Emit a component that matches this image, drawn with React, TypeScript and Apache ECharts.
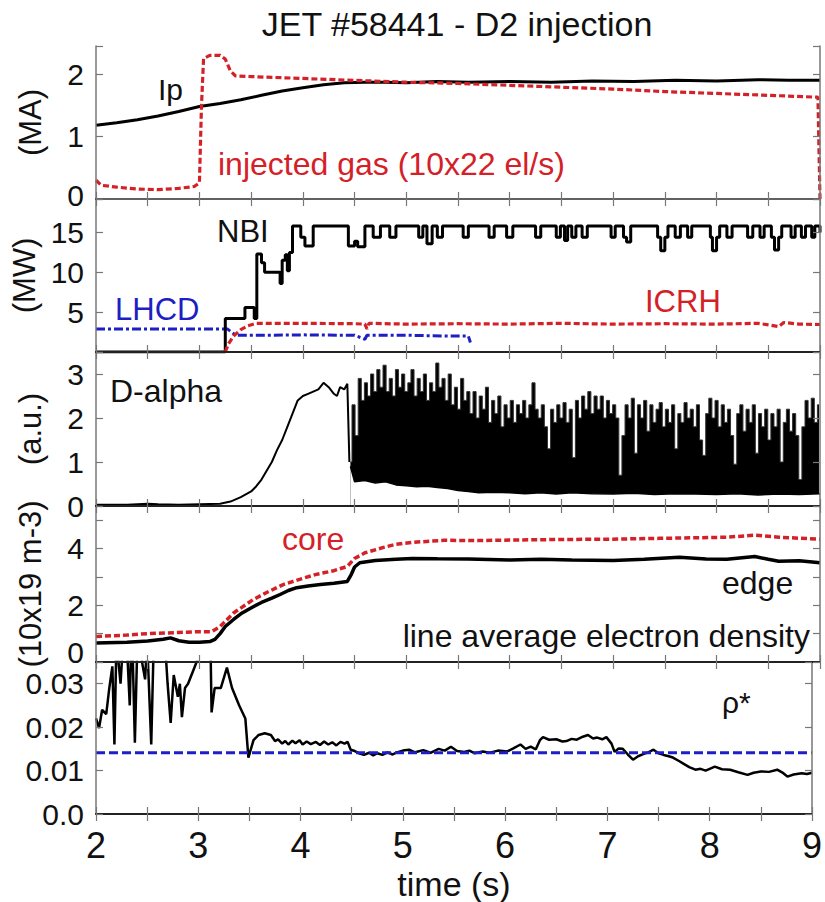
import React, { useEffect, useRef } from 'react';
import * as echarts from 'echarts';

const FONT = '"Liberation Sans", Arial, Helvetica, sans-serif';
const RED = '#d42128';
const BLUE = '#1e1ec4';

// ---- Panel 1: plasma current and injected gas ----
const ipData = [
  [2.0, 1.18], [2.2, 1.22], [2.4, 1.27], [2.6, 1.33], [2.8, 1.4], [3.0, 1.48], [3.2, 1.53],
  [3.4, 1.59], [3.6, 1.66], [3.8, 1.73], [4.0, 1.78], [4.2, 1.83], [4.4, 1.86], [4.6, 1.87],
  [4.8, 1.87], [5.0, 1.86], [5.3, 1.88], [5.6, 1.87], [6.0, 1.88], [6.4, 1.87], [6.8, 1.89],
  [7.2, 1.88], [7.6, 1.9], [8.0, 1.89], [8.4, 1.91], [8.7, 1.9], [9.0, 1.9],
];
const gasData = [
  [2.0, 0.3], [2.05, 0.22], [2.2, 0.19], [2.4, 0.16], [2.6, 0.15], [2.8, 0.17], [2.95, 0.2],
  [3.0, 0.26], [3.02, 1.5], [3.04, 2.25], [3.1, 2.3], [3.2, 2.3], [3.25, 2.24], [3.3, 2.05],
  [3.35, 1.97], [3.5, 1.96], [4.0, 1.93], [4.5, 1.9], [5.0, 1.87], [5.5, 1.85], [6.0, 1.82],
  [6.5, 1.79], [7.0, 1.76], [7.5, 1.72], [8.0, 1.69], [8.5, 1.66], [8.98, 1.63], [9.0, 0.0],
];

// ---- Panel 2: heating powers (MW) ----
const nbiData = [
  [2.0, 0], [3.25, 4.2], [3.44, 5.6], [3.53, 4.2], [3.555, 12.3], [3.6, 11.2], [3.63, 10.0],
  [3.78, 8.6], [3.8, 11.5], [3.83, 12.2], [3.85, 10.2], [3.87, 12.5], [3.9, 15.8],
  [3.98, 14.4], [4.02, 13.3], [4.1, 15.8], [4.44, 13.3], [4.5, 13.9], [4.53, 13.2], [4.6, 15.8],
  [4.68, 14.4], [4.75, 15.8], [4.84, 14.4], [4.9, 15.8], [5.12, 14.4], [5.16, 15.8], [5.2, 13.6],
  [5.25, 15.8], [5.3, 14.4], [5.35, 15.8], [5.55, 14.4], [5.6, 15.8], [5.8, 14.4], [5.85, 15.8],
  [5.97, 14.4], [6.03, 15.8], [6.25, 14.4], [6.3, 15.8], [6.45, 14.4], [6.49, 15.8], [6.53, 14.0],
  [6.56, 15.8], [6.6, 14.4], [6.64, 15.8], [6.7, 14.4], [6.75, 15.8], [6.98, 14.4], [7.02, 15.8],
  [7.1, 14.4], [7.13, 13.8], [7.17, 15.8], [7.43, 14.4], [7.46, 12.7], [7.5, 14.4], [7.53, 15.8],
  [7.6, 14.4], [7.65, 15.8], [7.72, 14.4], [7.76, 15.8], [7.94, 14.4], [7.96, 12.7], [8.0, 14.4],
  [8.03, 15.8], [8.1, 14.4], [8.15, 15.8], [8.3, 14.4], [8.35, 15.8], [8.42, 14.4], [8.46, 15.8],
  [8.53, 14.4], [8.56, 12.8], [8.6, 14.4], [8.63, 15.8], [8.72, 14.4], [8.76, 15.8], [8.82, 14.4],
  [8.86, 15.8], [8.92, 14.4], [8.95, 15.8], [9.0, 15.0],
];
const icrhOffData = [[2.0, 0], [3.26, 0]];
const icrhData = [
  [3.25, 0], [3.28, 1.0], [3.33, 2.0], [3.4, 2.8], [3.47, 3.3], [3.55, 3.6],
  [4.0, 3.6], [4.5, 3.55], [4.6, 3.5], [4.62, 2.9], [4.64, 3.6], [5.0, 3.5], [5.5, 3.55],
  [6.0, 3.5], [6.5, 3.6], [7.0, 3.5], [7.5, 3.55], [8.0, 3.5], [8.4, 3.6], [8.6, 3.2],
  [8.65, 3.7], [8.8, 3.5], [9.0, 3.45],
];
const lhcdData = [
  [2.0, 2.9], [3.27, 2.9], [3.35, 2.1], [3.6, 2.1], [4.0, 2.15], [4.5, 2.1], [4.6, 1.6],
  [4.62, 2.1], [5.0, 2.1], [5.4, 2.0], [5.6, 2.0], [5.62, 1.2],
];
const lhcdLateData = [[7.15, 0], [9.0, 0]];

// ---- Panel 3: D-alpha (a.u.) ----
const dalphaData = [
  [2.0, 0.03], [2.3, 0.03], [2.5, 0.05], [2.6, 0.04], [2.8, 0.03], [3.0, 0.04], [3.2, 0.05],
  [3.3, 0.1], [3.4, 0.2], [3.5, 0.33], [3.55, 0.45], [3.6, 0.6], [3.65, 0.8], [3.7, 1.0],
  [3.75, 1.27], [3.8, 1.5], [3.85, 1.8], [3.9, 2.1], [3.95, 2.4], [4.0, 2.5], [4.05, 2.55],
  [4.1, 2.6], [4.15, 2.65], [4.2, 2.8], [4.25, 2.7], [4.3, 2.55], [4.33, 2.5], [4.36, 2.7],
  [4.4, 2.65], [4.43, 2.78], [4.45, 1.0],
];
// ELMy phase, sampled every 0.03 s from 4.46 s: upper envelope of the bursts
const elmStart = 4.46;
const elmStep = 0.03;
const elmHigh = [
  1.0, 2.3, 1.6, 2.9, 2.4, 2.8, 2.5, 3.0, 2.6, 3.1,
  2.7, 3.2, 2.6, 2.9, 2.5, 3.1, 2.7, 3.0, 2.6, 2.8,
  3.1, 2.5, 2.9, 2.6, 3.0, 2.4, 2.8, 2.6, 3.25, 2.7,
  2.9, 2.4, 3.0, 2.3, 2.7, 2.2, 2.9, 2.4, 2.6, 2.1,
  2.6, 2.0, 2.5, 2.2, 2.7, 1.9, 2.4, 2.1, 2.5, 1.8,
  2.3, 2.0, 2.4, 1.9, 2.3, 2.1, 2.4, 2.0, 2.3, 2.8,
  2.2, 2.0, 2.3, 1.8, 1.3, 2.2, 1.9, 2.3, 2.0, 2.35,
  1.9, 2.2, 1.1, 2.4, 2.0, 2.5, 2.2, 2.6, 2.1, 2.5,
  2.2, 2.5, 2.0, 2.4, 2.1, 2.3, 2.0, 0.7, 1.6, 2.3,
  2.0, 2.45, 1.2, 2.3, 2.0, 2.4, 1.7, 2.3, 1.9, 2.2,
  2.35, 1.8, 2.2, 1.9, 2.3, 1.3, 2.1, 1.9, 2.35, 2.0,
  2.2, 1.8, 2.3, 1.5, 1.15, 2.1, 2.45, 2.0, 2.4, 1.8,
  2.3, 1.9, 2.2, 1.6, 0.95, 2.1, 2.3, 1.7, 2.2, 1.9,
  2.3, 1.2, 2.1, 1.8, 2.2, 1.5, 2.1, 1.8, 2.2, 1.0,
  1.9, 2.2, 1.7, 2.1, 1.6, 0.6, 1.8, 2.4, 2.0, 2.45,
  1.9, 2.3,
];
// lower envelope of the ELM bursts
const elmLowData = [
  [4.46, 0.9], [4.5, 0.55], [4.6, 0.58], [4.7, 0.52], [4.8, 0.55], [4.9, 0.48], [5.0, 0.46],
  [5.1, 0.44], [5.2, 0.45], [5.3, 0.42], [5.4, 0.4], [5.5, 0.35], [5.6, 0.33], [5.7, 0.3],
  [5.85, 0.31], [6.0, 0.3], [6.15, 0.28], [6.3, 0.3], [6.45, 0.27], [6.6, 0.3], [6.8, 0.28],
  [7.0, 0.27], [7.2, 0.29], [7.4, 0.26], [7.6, 0.28], [7.8, 0.27], [8.0, 0.26], [8.2, 0.28],
  [8.4, 0.25], [8.6, 0.27], [8.8, 0.26], [9.0, 0.28],
];

// ---- Panel 4: line average electron density (10^19 m^-3) ----
const edgeData = [
  [2.0, 0.67], [2.3, 0.7], [2.5, 0.74], [2.65, 0.8], [2.72, 0.85], [2.8, 0.75], [2.9, 0.7],
  [3.0, 0.7], [3.1, 0.72], [3.15, 0.8], [3.2, 1.0], [3.25, 1.25], [3.33, 1.5], [3.4, 1.7],
  [3.52, 1.95], [3.6, 2.1], [3.7, 2.25], [3.78, 2.38], [3.86, 2.52], [3.94, 2.62], [4.05, 2.68],
  [4.17, 2.73], [4.3, 2.78], [4.43, 2.84], [4.47, 3.1], [4.5, 3.35], [4.55, 3.5], [4.7, 3.58],
  [4.9, 3.62], [5.06, 3.65], [5.3, 3.64], [5.6, 3.63], [6.0, 3.6], [6.3, 3.62], [6.6, 3.6],
  [7.0, 3.58], [7.3, 3.62], [7.64, 3.69], [7.9, 3.63], [8.1, 3.62], [8.37, 3.72], [8.5, 3.62],
  [8.6, 3.55], [8.8, 3.57], [9.0, 3.5],
];
const coreData = [
  [2.0, 0.9], [2.3, 0.95], [2.5, 1.0], [2.8, 1.04], [3.0, 1.07], [3.12, 1.07], [3.2, 1.25],
  [3.33, 1.73], [3.52, 2.2], [3.65, 2.45], [3.81, 2.73], [4.0, 2.95], [4.13, 3.09], [4.3, 3.22],
  [4.43, 3.37], [4.5, 3.65], [4.6, 3.85], [4.78, 4.04], [4.9, 4.15], [5.06, 4.22], [5.37, 4.29],
  [5.7, 4.28], [6.0, 4.3], [6.5, 4.32], [7.0, 4.33], [7.45, 4.36], [7.8, 4.38], [8.1, 4.4],
  [8.37, 4.47], [8.6, 4.4], [9.0, 4.33],
];

// ---- Panel 5: rho* ----
const rhoData = [
  [2.0, 0.022], [2.03, 0.0198], [2.06, 0.024], [2.1, 0.023], [2.13, 0.029], [2.16, 0.034],
  [2.18, 0.016], [2.2, 0.04], [2.24, 0.03], [2.27, 0.042], [2.3, 0.04], [2.33, 0.025],
  [2.35, 0.045], [2.38, 0.0164], [2.41, 0.045], [2.45, 0.035], [2.48, 0.031], [2.5, 0.04],
  [2.54, 0.016], [2.57, 0.045], [2.62, 0.04], [2.66, 0.045], [2.7, 0.03], [2.73, 0.021],
  [2.76, 0.032], [2.8, 0.027], [2.82, 0.03], [2.84, 0.0223], [2.87, 0.029], [2.9, 0.03],
  [2.95, 0.033], [3.0, 0.036], [3.05, 0.04], [3.12, 0.038], [3.13, 0.0234], [3.16, 0.029],
  [3.22, 0.029], [3.28, 0.0337], [3.33, 0.029], [3.4, 0.025], [3.46, 0.022], [3.49, 0.013],
  [3.54, 0.017], [3.59, 0.0182], [3.65, 0.0186], [3.71, 0.0182], [3.75, 0.0168], [3.78, 0.0172],
  [3.82, 0.0162], [3.85, 0.0168], [3.88, 0.016], [3.92, 0.0169], [3.95, 0.0163], [3.99, 0.017],
  [4.02, 0.016], [4.06, 0.0167], [4.1, 0.0161], [4.15, 0.0166], [4.19, 0.0159], [4.23, 0.0167],
  [4.27, 0.016], [4.31, 0.0165], [4.35, 0.0158], [4.39, 0.0166], [4.43, 0.0162], [4.46, 0.0166],
  [4.49, 0.0148], [4.53, 0.0145], [4.57, 0.014], [4.62, 0.0136], [4.67, 0.0141], [4.71, 0.0135],
  [4.75, 0.014], [4.8, 0.0136], [4.85, 0.0142], [4.9, 0.0137], [4.94, 0.0142], [5.0, 0.0146],
  [5.06, 0.0148], [5.12, 0.0142], [5.2, 0.0147], [5.27, 0.0141], [5.35, 0.015], [5.41, 0.0146],
  [5.47, 0.0155], [5.53, 0.0145], [5.6, 0.0143], [5.65, 0.0146], [5.7, 0.014], [5.78, 0.0144],
  [5.85, 0.0141], [5.93, 0.0146], [6.02, 0.0144], [6.08, 0.0151], [6.15, 0.016], [6.2, 0.015],
  [6.25, 0.0155], [6.3, 0.0149], [6.34, 0.017], [6.37, 0.0177], [6.43, 0.0171], [6.5, 0.0172],
  [6.56, 0.0167], [6.6, 0.0168], [6.65, 0.0173], [6.7, 0.0171], [6.76, 0.0178], [6.81, 0.0182],
  [6.86, 0.0174], [6.9, 0.0176], [6.95, 0.0172], [6.99, 0.0177], [7.04, 0.0162], [7.07, 0.0143],
  [7.11, 0.0151], [7.15, 0.015], [7.2, 0.0137], [7.25, 0.0125], [7.3, 0.0133], [7.35, 0.0138],
  [7.4, 0.0142], [7.45, 0.0148], [7.5, 0.014], [7.55, 0.0136], [7.6, 0.0133], [7.64, 0.013],
  [7.7, 0.0122], [7.75, 0.0115], [7.8, 0.0108], [7.86, 0.0102], [7.91, 0.0104], [7.96, 0.01],
  [8.0, 0.0104], [8.05, 0.0109], [8.12, 0.0103], [8.2, 0.0102], [8.28, 0.0096], [8.37, 0.009],
  [8.43, 0.0095], [8.5, 0.0098], [8.58, 0.0097], [8.66, 0.0102], [8.72, 0.0094], [8.76, 0.0086],
  [8.82, 0.0091], [8.9, 0.0094], [8.95, 0.0092], [9.0, 0.0095],
];
const rhoRefData = [[2.0, 0.0141], [9.0, 0.0141]];

// ---- axes ----
const timeMin = 2;
const timeMax = 9;
const yRanges = [
  { min: 0, max: 2.45, interval: 1, name: '(MA)' },
  { min: 0, max: 19.2, interval: 5, name: '(MW)' },
  { min: 0, max: 3.5, interval: 1, name: '(a.u.)' },
  { min: 0, max: 5.5, interval: 1, name: '(10x19 m-3)' },
  { min: 0, max: 0.035, interval: 0.01, name: '' },
];

const isMult = (v: number, s: number) => Math.abs(v / s - Math.round(v / s)) < 1e-6;
const yFormatters = [
  (v: number) => (v < 1e-9 ? '{lo|0}' : isMult(v, 1) ? String(Math.round(v)) : ''),
  (v: number) => (v > 0 && isMult(v, 5) ? String(Math.round(v)) : ''),
  (v: number) => (isMult(v, 1) ? String(Math.round(v)) : ''),
  (v: number) => (v < 1e-9 ? '{up|0}' : isMult(v, 2) ? String(Math.round(v)) : ''),
  (v: number) => (v < 1e-9 ? '0.0' : isMult(v, 0.01) ? v.toFixed(2) : ''),
];

const PANELS = [
  { top: 46, height: 153 },
  { top: 199, height: 153 },
  { top: 352, height: 154 },
  { top: 506, height: 156 },
  { top: 662, height: 153 },
];
const GRID_LEFT = 96;
const GRID_WIDTH = 724;

function buildOption(): any {
  const grid = PANELS.map((p) => ({ left: GRID_LEFT, width: GRID_WIDTH, top: p.top, height: p.height }));
  const tickStyle = { inside: true, length: 7, lineStyle: { color: '#777', width: 1.2 } };
  const xAxis: any[] = [];
  const yAxis: any[] = [];
  PANELS.forEach((_, i) => {
    const last = i === PANELS.length - 1;
    xAxis.push({
      type: 'value', gridIndex: i, position: 'bottom', min: timeMin, max: timeMax, interval: 0.5, z: 10,
      axisLine: { show: true, lineStyle: { color: last ? '#444' : '#222', width: last ? 1.5 : 2 } },
      axisTick: tickStyle,
      splitLine: { show: false },
      axisLabel: {
        show: last, fontSize: 36, color: '#111', fontFamily: FONT, margin: 13,
        formatter: (v: number) => (isMult(v, 1) ? String(Math.round(v)) : ''),
      },
      name: last ? 'time (s)' : '',
      nameLocation: 'middle', nameGap: 53,
      nameTextStyle: { fontSize: 34, color: '#111', fontFamily: FONT },
    });
    xAxis.push({
      type: 'value', gridIndex: i, position: 'top', min: timeMin, max: timeMax, interval: 0.5, z: 10,
      axisLine: { show: true, lineStyle: { color: i === 0 ? '#777' : '#222', width: i === 0 ? 1.5 : 2 } },
      axisTick: tickStyle,
      splitLine: { show: false },
      axisLabel: { show: false },
    });
    const r = yRanges[i];
    yAxis.push({
      type: 'value', gridIndex: i, position: 'left', min: r.min, max: r.max, interval: r.interval, z: 10,
      axisLine: { show: true, lineStyle: { color: '#777', width: 1.5 } },
      axisTick: tickStyle,
      splitLine: { show: false },
      axisLabel: {
        fontSize: 30, lineHeight: 20, color: '#111', fontFamily: FONT, margin: 12, formatter: yFormatters[i],
        rich: {
          lo: { fontSize: 30, lineHeight: 14, color: '#111', fontFamily: FONT, padding: [0, 0, 8, 0] },
          up: { fontSize: 30, lineHeight: 14, color: '#111', fontFamily: FONT, padding: [0, 0, 20, 0] },
        },
      },
      name: r.name, nameLocation: 'middle', nameRotate: 90, nameGap: 50,
      nameTextStyle: { fontSize: 31, color: '#111', fontFamily: FONT },
    });
    yAxis.push({
      type: 'value', gridIndex: i, position: 'right', min: r.min, max: r.max, interval: r.interval, z: 10,
      axisLine: { show: true, lineStyle: { color: '#777', width: 1.5 } },
      axisTick: tickStyle,
      splitLine: { show: false },
      axisLabel: { show: false },
    });
  });

  const line = (name: string, panel: number, data: any, style: any, extra: any = {}) => ({
    name, type: 'line', xAxisIndex: panel * 2, yAxisIndex: panel * 2, data,
    showSymbol: false, symbol: 'none', clip: true, lineStyle: style, ...extra,
  });

  const elmHighData = elmHigh.map((v, k) => [elmStart + elmStep * k, v]);

  const series = [
    line('Ip', 0, ipData, { color: '#000', width: 3 }),
    line('injected gas', 0, gasData, { color: RED, width: 3.2, type: [6, 3] }),
    line('LHCD', 1, lhcdData, { color: BLUE, width: 3, type: [9, 3, 3, 3] }),
    line('LHCD late', 1, lhcdLateData, { color: BLUE, width: 1.5, type: 'dotted' }),
    line('NBI', 1, nbiData, { color: '#000', width: 3 }, { step: 'end' }),
    line('ICRH off', 1, icrhOffData, { color: RED, width: 2 }),
    line('ICRH', 1, icrhData, { color: RED, width: 3.2, type: [6, 3] }),
    line('D-alpha', 2, dalphaData, { color: '#000', width: 2 }),
    line('D-alpha ELMs', 2, elmHighData, { color: '#333', width: 1 },
      { step: 'middle', areaStyle: { color: '#000', opacity: 1 }, z: 2 }),
    line('D-alpha ELM floor', 2, elmLowData, { color: '#000', width: 1.5 },
      { areaStyle: { color: '#fff', opacity: 1 }, z: 3 }),
    line('edge', 3, edgeData, { color: '#000', width: 3.5 }),
    line('core', 3, coreData, { color: RED, width: 3.5, type: [6, 3] }),
    line('rho*', 4, rhoData, { color: '#000', width: 2.5 }),
    line('rho* reference', 4, rhoRefData, { color: BLUE, width: 3, type: [9, 4] }),
  ];

  const txt = (text: string, x: number, y: number, fill: string, size: number, align = 'left') => ({
    type: 'text', x, y, z: 20,
    style: { text, fill, fontSize: size, fontFamily: FONT, textAlign: align, textVerticalAlign: 'middle' },
  });

  const graphic = [
    txt('JET #58441 - D2 injection', 457, 24, '#111', 34, 'center'),
    txt('Ip', 158, 89, '#111', 30),
    txt('injected gas (10x22 el/s)', 218, 164, RED, 32),
    txt('NBI', 217, 231, '#111', 31),
    txt('LHCD', 115, 309, BLUE, 31),
    txt('ICRH', 645, 301, RED, 31),
    txt('D-alpha', 110, 391, '#111', 32),
    txt('core', 282, 539, RED, 32),
    txt('edge', 722, 583, '#111', 32),
    txt('line average electron density', 810, 636, '#111', 32, 'right'),
    txt('ρ*', 722, 702, '#111', 30),
  ];

  return {
    animation: false,
    backgroundColor: '#fff',
    textStyle: { fontFamily: FONT },
    grid, xAxis, yAxis, series, graphic,
  };
}

export default function App() {
  const ref = useRef<HTMLDivElement>(null);
  useEffect(() => {
    const chart = echarts.init(ref.current as HTMLDivElement, null, { renderer: 'svg' });
    chart.setOption(buildOption());
    return () => chart.dispose();
  }, []);
  return (
    <div
      ref={ref}
      style={{ position: 'absolute', left: 0, top: 0, width: 825, height: 902, background: '#fff' }}
    />
  );
}
